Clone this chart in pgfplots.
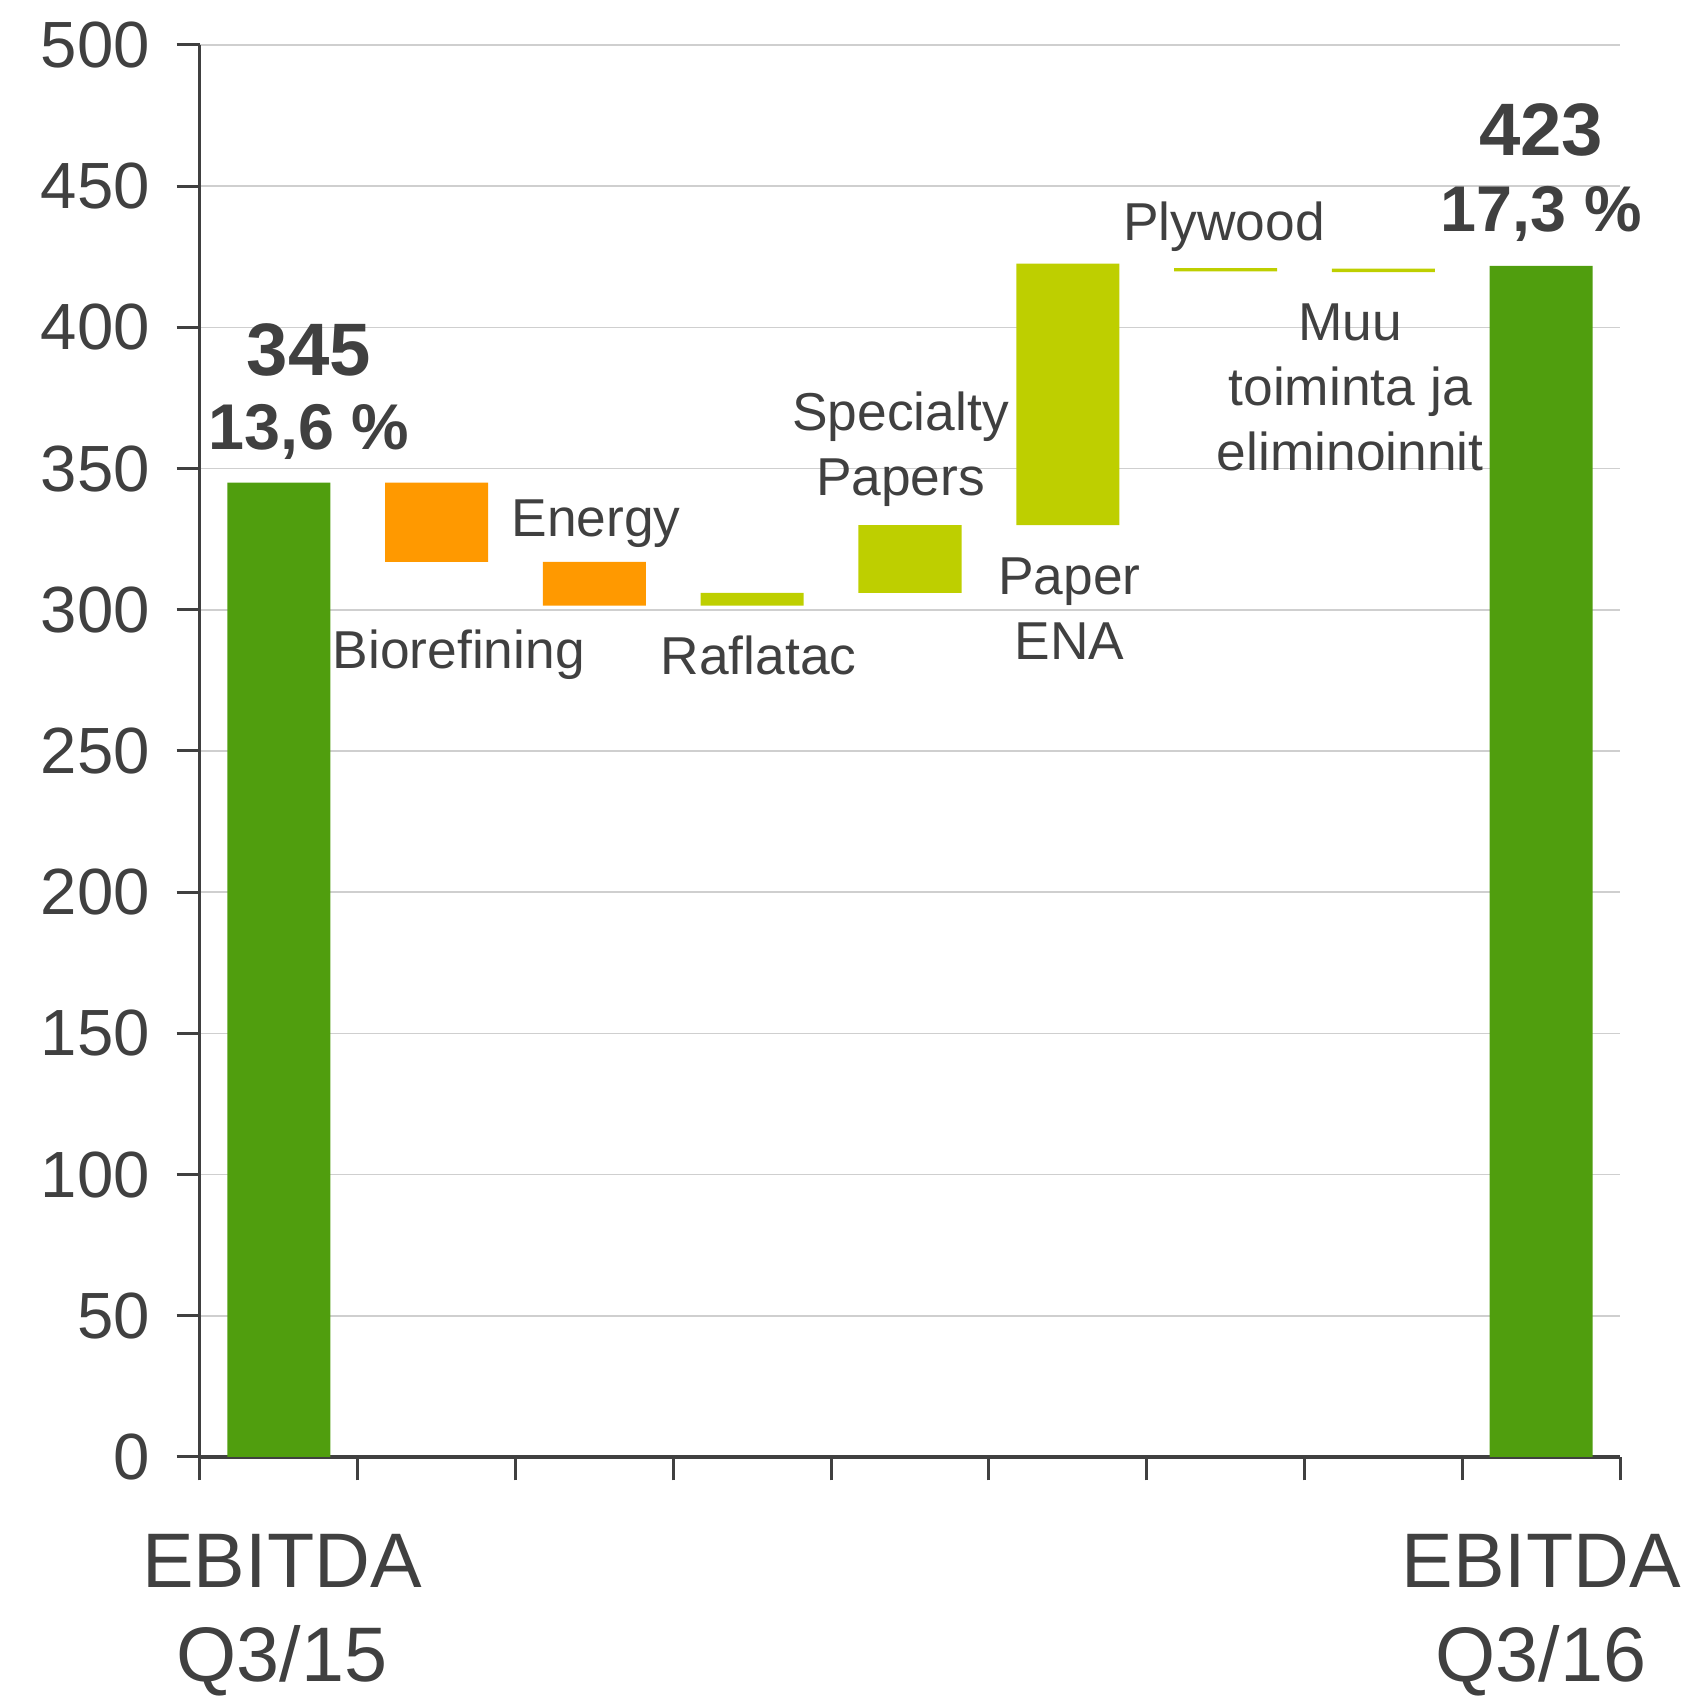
\documentclass[border=0pt]{standalone}
\usepackage{fontspec}
\setmainfont{Liberation Sans}
\usepackage{pgfplots}
\pgfplotsset{compat=1.18}
\definecolor{Txt}{HTML}{404040}
\definecolor{Grn}{HTML}{509E0E}
\definecolor{Org}{HTML}{FF9900}
\definecolor{Lim}{HTML}{BECF00}
\definecolor{Grd}{HTML}{CFCFCF}
\tikzset{
  lbl/.style={text=Txt, align=center, inner sep=0pt, font=\fontsize{16}{19.5}\selectfont},
  big/.style={text=Txt, align=center, inner sep=0pt, font=\fontsize{22.3}{23}\selectfont\bfseries},
  pct/.style={text=Txt, align=center, inner sep=0pt, font=\fontsize{19.4}{20}\selectfont\bfseries},
  cat/.style={text=Txt, align=center, inner sep=0pt, font=\fontsize{23.2}{28}\selectfont},
}

\begin{document}
\begin{tikzpicture}
\useasboundingbox (-60pt,-72.9pt) rectangle (447.3pt,437.1pt);
\begin{axis}[
  width=426pt, height=423.6pt, scale only axis,
  xmin=-0.5, xmax=8.5, ymin=0, ymax=500,
  ybar stacked, bar width=0.653,
  axis x line=bottom, axis y line=left,
  x axis line style={-, line width=1.3pt, Txt},
  y axis line style={-, line width=0.9pt, Txt},
  xtick={-0.5,0.5,...,8.5}, xticklabels={},
  ytick={0,50,...,500},
  tick align=outside, major tick length=7pt,
  tick style={line width=0.9pt, Txt},
  ymajorgrids, grid style={line width=0.5pt, Grd},
  yticklabel style={font=\fontsize{19.6}{19.6}\selectfont, text=Txt, xshift=-4.5pt},
  /pgf/number format/assume math mode=true,
  clip=false,
]
% invisible base
\addplot[draw=none, fill=none] coordinates {(0,0) (1,317) (2,301.5) (3,301.5) (4,306) (5,330) (6,419.8) (7,419.6) (8,0)};
% totals
\addplot[draw=none, fill=Grn] coordinates {(0,345) (1,0) (2,0) (3,0) (4,0) (5,0) (6,0) (7,0) (8,421.8)};
% decreases
\addplot[draw=none, fill=Org] coordinates {(0,0) (1,28) (2,15.5) (3,0) (4,0) (5,0) (6,0) (7,0) (8,0)};
% increases
\addplot[draw=none, fill=Lim] coordinates {(0,0) (1,0) (2,0) (3,4.5) (4,24) (5,92.6) (6,0) (7,0) (8,0)};
% small changes
\addplot[draw=none, fill=Lim] coordinates {(0,0) (1,0) (2,0) (3,0) (4,0) (5,0) (6,1.2) (7,1.2) (8,0)};

\node[big] at (axis cs:0.19,392) {345};
\node[pct] at (axis cs:0.19,363) {13,6 \%};
\node[big] at (axis cs:8.0,470) {423};
\node[pct] at (axis cs:8.0,440) {17,3 \%};
\node[lbl] at (axis cs:1.14,284) {Biorefining};
\node[lbl] at (axis cs:2.01,330.5) {Energy};
\node[lbl] at (axis cs:3.04,284) {Raflatac};
\node[lbl] at (axis cs:3.94,357) {Specialty\\Papers};
\node[lbl] at (axis cs:5.01,300.5) {Paper\\ENA};
\node[lbl] at (axis cs:5.99,435.5) {Plywood};
\node[lbl] at (axis cs:6.79,378.6) {Muu\\toiminta ja\\eliminoinnit};
\node[cat] at (axis cs:0.02,-56) {EBITDA\\Q3/15};
\node[cat] at (axis cs:8.0,-56) {EBITDA\\Q3/16};
\end{axis}
\end{tikzpicture}
\end{document}
